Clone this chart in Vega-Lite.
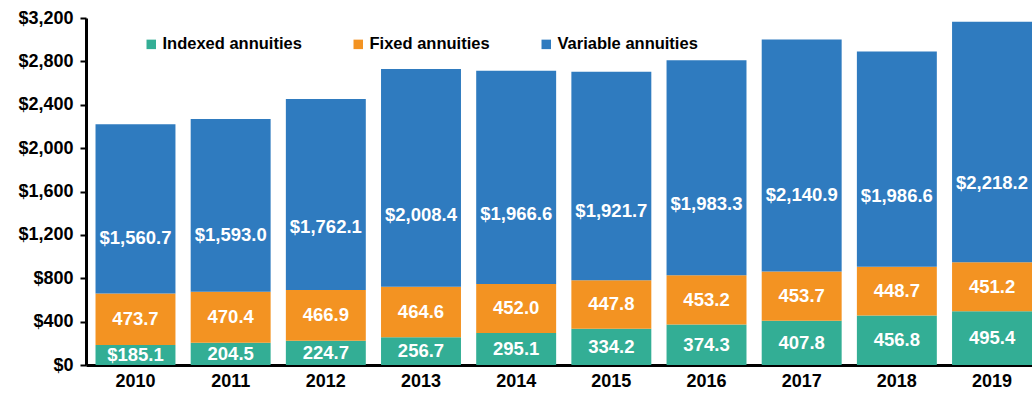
{
  "$schema": "https://vega.github.io/schema/vega-lite/v6.json",
  "width": 946,
  "height": 347,
  "autosize": {"type": "none"},
  "padding": {"left": 86, "top": 18, "right": 0, "bottom": 35},
  "background": "white",
  "config": {"view": {"stroke": null}, "font": "Liberation Sans"},
  "data": {
    "values": [
      {"year": "2010", "type": "Indexed annuities", "value": 185.1},
      {"year": "2010", "type": "Fixed annuities", "value": 473.7},
      {"year": "2010", "type": "Variable annuities", "value": 1560.7},
      {"year": "2011", "type": "Indexed annuities", "value": 204.5},
      {"year": "2011", "type": "Fixed annuities", "value": 470.4},
      {"year": "2011", "type": "Variable annuities", "value": 1593.0},
      {"year": "2012", "type": "Indexed annuities", "value": 224.7},
      {"year": "2012", "type": "Fixed annuities", "value": 466.9},
      {"year": "2012", "type": "Variable annuities", "value": 1762.1},
      {"year": "2013", "type": "Indexed annuities", "value": 256.7},
      {"year": "2013", "type": "Fixed annuities", "value": 464.6},
      {"year": "2013", "type": "Variable annuities", "value": 2008.4},
      {"year": "2014", "type": "Indexed annuities", "value": 295.1},
      {"year": "2014", "type": "Fixed annuities", "value": 452.0},
      {"year": "2014", "type": "Variable annuities", "value": 1966.6},
      {"year": "2015", "type": "Indexed annuities", "value": 334.2},
      {"year": "2015", "type": "Fixed annuities", "value": 447.8},
      {"year": "2015", "type": "Variable annuities", "value": 1921.7},
      {"year": "2016", "type": "Indexed annuities", "value": 374.3},
      {"year": "2016", "type": "Fixed annuities", "value": 453.2},
      {"year": "2016", "type": "Variable annuities", "value": 1983.3},
      {"year": "2017", "type": "Indexed annuities", "value": 407.8},
      {"year": "2017", "type": "Fixed annuities", "value": 453.7},
      {"year": "2017", "type": "Variable annuities", "value": 2140.9},
      {"year": "2018", "type": "Indexed annuities", "value": 456.8},
      {"year": "2018", "type": "Fixed annuities", "value": 448.7},
      {"year": "2018", "type": "Variable annuities", "value": 1986.6},
      {"year": "2019", "type": "Indexed annuities", "value": 495.4},
      {"year": "2019", "type": "Fixed annuities", "value": 451.2},
      {"year": "2019", "type": "Variable annuities", "value": 2218.2}
    ]
  },
  "transform": [
    {"calculate": "indexof(['Indexed annuities','Fixed annuities','Variable annuities'], datum.type)", "as": "ord"},
    {"stack": "value", "groupby": ["year"], "sort": [{"field": "ord", "order": "ascending"}], "as": ["v0", "v1"]},
    {"calculate": "datum.ord == 2 ? datum.v0 + 0.33 * datum.value : (datum.v0 + datum.v1) / 2", "as": "labelPos"},
    {"calculate": "(datum.ord == 2 || (datum.year == '2010' && datum.ord == 0)) ? '$' + format(datum.value, ',.1f') : format(datum.value, '.1f')", "as": "label"}
  ],
  "encoding": {
    "x": {
      "field": "year",
      "type": "ordinal",
      "scale": {"paddingInner": 0.16, "paddingOuter": 0.05, "align": 1},
      "axis": {
        "title": null,
        "labelAngle": 0,
        "domainColor": "black",
        "domainWidth": 3,
        "ticks": false,
        "labelFontSize": 18,
        "labelFontWeight": "bold",
        "labelColor": "black",
        "labelPadding": 7
      }
    }
  },
  "layer": [
    {
      "mark": {"type": "bar"},
      "encoding": {
        "y": {
          "field": "v0",
          "type": "quantitative",
          "scale": {"domain": [0, 3200], "nice": false},
          "axis": {
            "title": null,
            "values": [0, 400, 800, 1200, 1600, 2000, 2400, 2800, 3200],
            "format": "$,.0f",
            "grid": false,
            "domainColor": "black",
            "domainWidth": 3,
            "tickColor": "black",
            "tickWidth": 2,
            "tickSize": 6,
            "labelFontSize": 18,
            "labelFontWeight": "bold",
            "labelColor": "black",
            "labelPadding": 7
          }
        },
        "y2": {"field": "v1"},
        "color": {
          "field": "type",
          "type": "nominal",
          "scale": {
            "domain": ["Indexed annuities", "Fixed annuities", "Variable annuities"],
            "range": ["#33AE95", "#F39322", "#2F7BBF"]
          },
          "legend": {
            "title": null,
            "orient": "none",
            "legendX": 57,
            "legendY": 18,
            "direction": "horizontal",
            "symbolType": "square",
            "symbolSize": 90,
            "symbolStrokeWidth": 0,
            "labelFontSize": 16.5,
            "labelFontWeight": "bold",
            "labelColor": "black",
            "labelOffset": 3,
            "columnPadding": 48
          }
        }
      }
    },
    {
      "mark": {"type": "text", "color": "white", "fontWeight": "bold", "fontSize": 18.5, "baseline": "middle", "align": "center"},
      "encoding": {
        "y": {"field": "labelPos", "type": "quantitative"},
        "text": {"field": "label", "type": "nominal"}
      }
    }
  ]
}
